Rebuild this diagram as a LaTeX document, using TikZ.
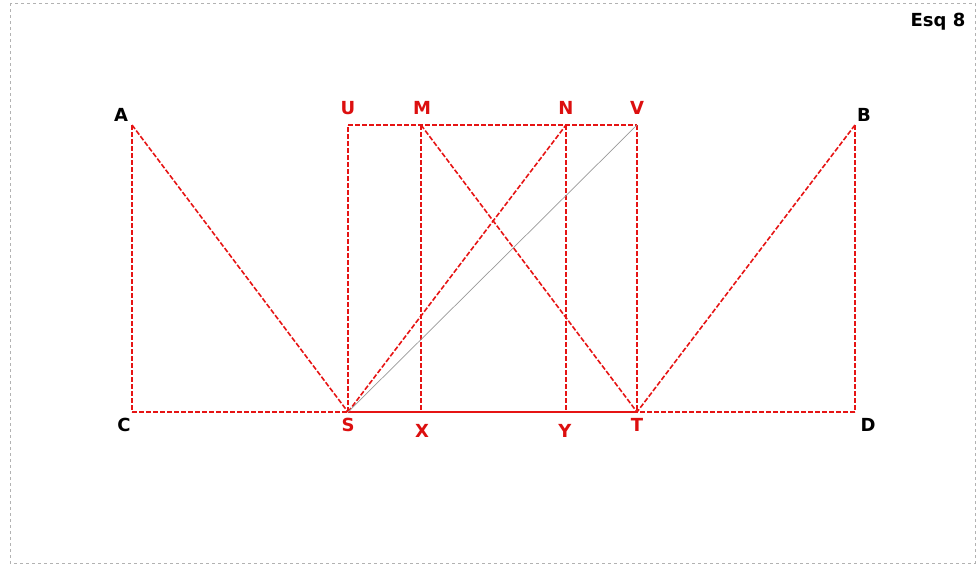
\documentclass[tikz,border=0pt]{standalone}
\usepackage{fontspec}
\setmainfont{DejaVu Sans}
\definecolor{lred}{RGB}{230,20,20}
\definecolor{tred}{RGB}{220,15,15}
\begin{document}
\begin{tikzpicture}[x=1pt,y=-1pt,
  rd/.style={draw=lred,line width=1.6pt,dash pattern=on 5pt off 2pt},
  rs/.style={draw=lred,line width=1.6pt},
  gl/.style={draw=gray!80,line width=0.7pt},
  lb/.style={font=\fontsize{18}{18}\selectfont\bfseries,inner sep=0pt},
  lbk/.style={lb,text=black},
  lbr/.style={lb,text=tred}]
\useasboundingbox (0,0) rectangle (977,566);
\draw[gray!60,dashed,line width=0.5pt] (10,3) rectangle (975,563);
% points
\coordinate (A) at (132,125);
\coordinate (B) at (855,125);
\coordinate (C) at (132,412);
\coordinate (D) at (855,412);
\coordinate (U) at (348,125);
\coordinate (M) at (421,125);
\coordinate (N) at (566,125);
\coordinate (V) at (637,125);
\coordinate (S) at (348,412);
\coordinate (X) at (421,412);
\coordinate (Y) at (566,412);
\coordinate (T) at (637,412);
% lines
\draw[rd] (A) -- (C);
\draw[rd] (C) -- (S);
\draw[rd] (A) -- (S);
\draw[rd] (B) -- (D);
\draw[rd] (D) -- (T);
\draw[rd] (B) -- (T);
\draw[rd] (S) -- (U);
\draw[rd] (U) -- (V);
\draw[rd] (V) -- (T);
\draw[rd] (M) -- (X);
\draw[rd] (N) -- (Y);
\draw[rd] (M) -- (T);
\draw[rd] (S) -- (N);
\draw[rs] (S) -- (T);
\draw[gl] (S) -- (V);
% labels
\node[lbk] (lA) at (121,115) {A};
\node[lbk] (lB) at (864,115) {B};
\node[lbk] (lC) at (124,425) {C};
\node[lbk] (lD) at (868,425) {D};
\node[lbr] (lU) at (348,108) {U};
\node[lbr] (lM) at (422,108) {M};
\node[lbr] (lN) at (566,108) {N};
\node[lbr] (lV) at (637,108) {V};
\node[lbr] (lS) at (348,425) {S};
\node[lbr] (lX) at (422,431) {X};
\node[lbr] (lY) at (565,431) {Y};
\node[lbr] (lT) at (637,425) {T};
\node[lbk] (esq) at (938,22) {Esq 8};
\end{tikzpicture}
\end{document}
